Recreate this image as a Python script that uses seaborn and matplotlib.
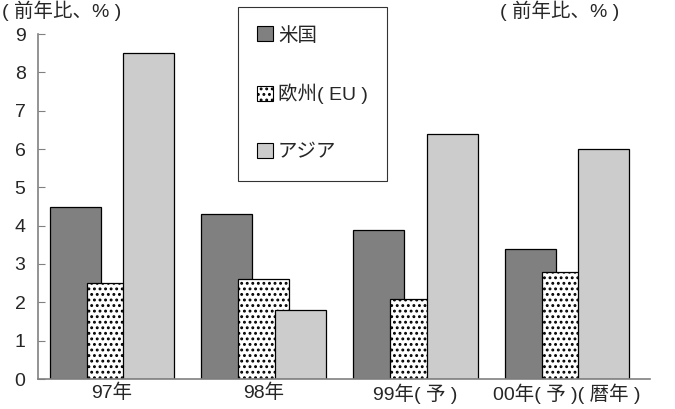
import numpy as np
import pandas as pd
import matplotlib
matplotlib.use("Agg")
import matplotlib.pyplot as plt
import seaborn as sns
from matplotlib.patches import Patch

years = ["97年", "98年", "99年( 予 )", "00年( 予 )( 暦年 )"]
regions = ["米国", "欧州( EU )", "アジア"]
us = [4.5, 4.3, 3.9, 3.4]
eu = [2.5, 2.6, 2.1, 2.8]
asia = [8.5, 1.8, 6.4, 6.0]

colors = ["#808080", "#ffffff", "#cccccc"]
hatches = ["", "...", ""]

df = pd.DataFrame({
    "year": years * 3,
    "region": [r for r in regions for _ in years],
    "value": us + eu + asia,
})

sns.set_style("white")
plt.rcParams["font.family"] = ["Liberation Sans", "Noto Sans CJK JP", "DejaVu Sans"]
plt.rcParams["hatch.linewidth"] = 1.3

fig = plt.figure(figsize=(6.75, 4.09), dpi=100)
ax = fig.add_axes([38 / 675, 1 - 379 / 409, (650 - 38) / 675, (379 - 34) / 409])

sns.barplot(data=df, x="year", y="value", hue="region", order=years,
            hue_order=regions, palette=colors, width=0.73, gap=-0.38,
            edgecolor="black", linewidth=0.9, legend=False, ax=ax)

# hatch the EU bars
for i, bar in enumerate(ax.patches):
    k = i // len(years)
    if k < 3 and hatches[k]:
        bar.set_hatch(hatches[k])

ax.set_ylim(0, 9)
ax.set_xlim(-0.488, 3.547)
ax.set_yticks(range(10))
ax.set_xlabel("")
ax.set_ylabel("")
ax.tick_params(axis="y", direction="in", length=5, color="#808080",
               labelsize=14, pad=9, left=True)
ax.tick_params(axis="x", length=0, labelsize=14, pad=3)
sns.despine(ax=ax)
for s in ["left", "bottom"]:
    ax.spines[s].set_color("#808080")
    ax.spines[s].set_linewidth(1.2)

fig.text(2 / 675, 1 - 1 / 409, "( 前年比、% )", fontsize=14, va="top", ha="left")
fig.text(500 / 675, 1 - 1 / 409, "( 前年比、% )", fontsize=14, va="top", ha="left")

handles = [Patch(facecolor=c, edgecolor="black", hatch=h, linewidth=0.8)
           for c, h in zip(colors, hatches)]
leg = fig.legend(handles, regions, loc="upper left",
                 bbox_to_anchor=(238 / 675, 1 - 7 / 409), frameon=True,
                 fancybox=False, edgecolor="black", fontsize=14,
                 handlelength=0.8, handleheight=0.8, handletextpad=0.25,
                 labelspacing=2.0, borderpad=1.0, borderaxespad=0)
leg.get_frame().set_linewidth(0.8)

fig.savefig("out.png", dpi=100)
